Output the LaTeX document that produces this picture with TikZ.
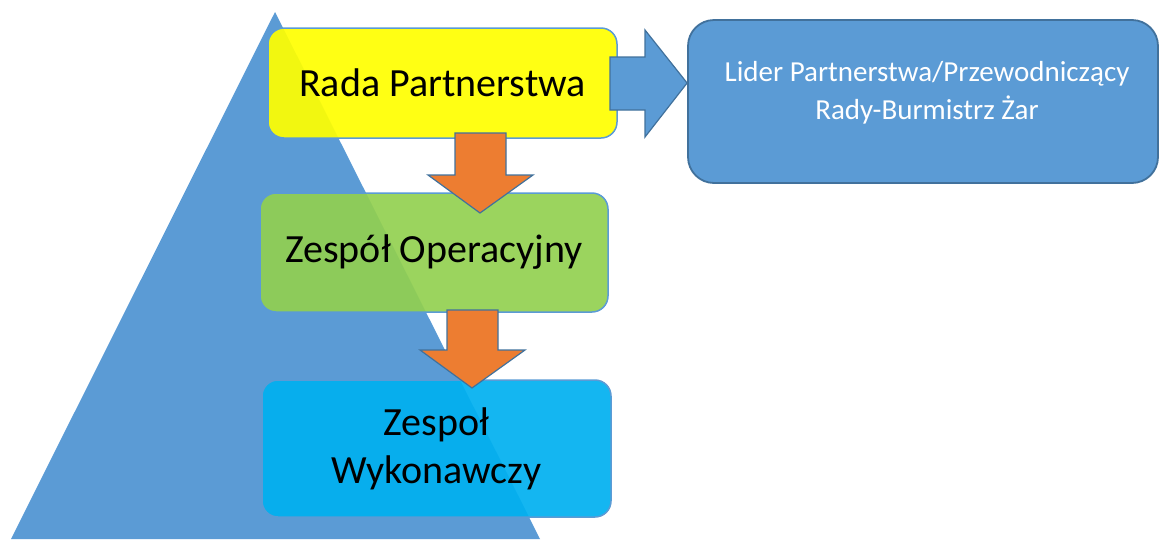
\documentclass[tikz,border=0pt]{standalone}
\usepackage{fontspec}
\setmainfont{Carlito}
\definecolor{tri}{HTML}{5B9BD5}
\definecolor{dkb}{HTML}{41719C}
\definecolor{org}{HTML}{ED7D31}
\definecolor{grn}{HTML}{92D050}
\definecolor{cyn}{HTML}{00B0F0}
\definecolor{yel}{HTML}{FFFF00}
\begin{document}
\begin{tikzpicture}[x=1pt,y=-1pt,
  box/.style={draw=tri, line width=1.5pt, rounded corners=16pt, fill opacity=0.92, text opacity=1, inner sep=0pt, align=center, font=\fontsize{40}{48}\selectfont},
  arr/.style={fill=org, draw=dkb, line width=1.2pt, line join=miter},
  barr/.style={fill=tri, draw=dkb, line width=1.2pt, line join=miter}]
\useasboundingbox (0,0) rectangle (1160,539);
\begin{scope}
\clip (0,0) rectangle (1160,539);
\fill[tri] (275,12) -- (540,539) -- (11,539) -- cycle;
\end{scope}
\node[box, fill=yel, minimum width=349pt, minimum height=110pt] (rada) at (442.5,83) {Rada Partnerstwa};
\node[box, fill=grn, minimum width=348pt, minimum height=119pt] (oper) at (434,252.5) {Zespół Operacyjny};
\node[box, fill=cyn, minimum width=349pt, minimum height=137pt] (wyk) at (436.5,448.5) {Zespoł\\Wykonawczy};
\node[draw=dkb, fill=tri, line width=1.8pt, rounded corners=26pt, minimum width=470pt, minimum height=163pt, inner sep=0pt] (lider) at (923,101.5) {};
\node[text=white, align=center, font=\fontsize{29}{38}\selectfont, inner sep=0pt] (lidertext) at (927,92.5) {Lider Partnerstwa/Przewodniczący\\Rady-Burmistrz Żar};
% arrows
\draw[barr] (610,57) -- (645,57) -- (645,30) -- (lider.west |- 0,83) -- (645,137) -- (645,110) -- (610,110) -- cycle;
\draw[arr] (455,133) -- (506,133) -- (506,175) -- (533,175) -- (480,213) -- (428,175) -- (455,175) -- cycle;
\draw[arr] (447,310) -- (498,310) -- (498,350) -- (525,350) -- (472,388) -- (420,350) -- (447,350) -- cycle;
\end{tikzpicture}
\end{document}
